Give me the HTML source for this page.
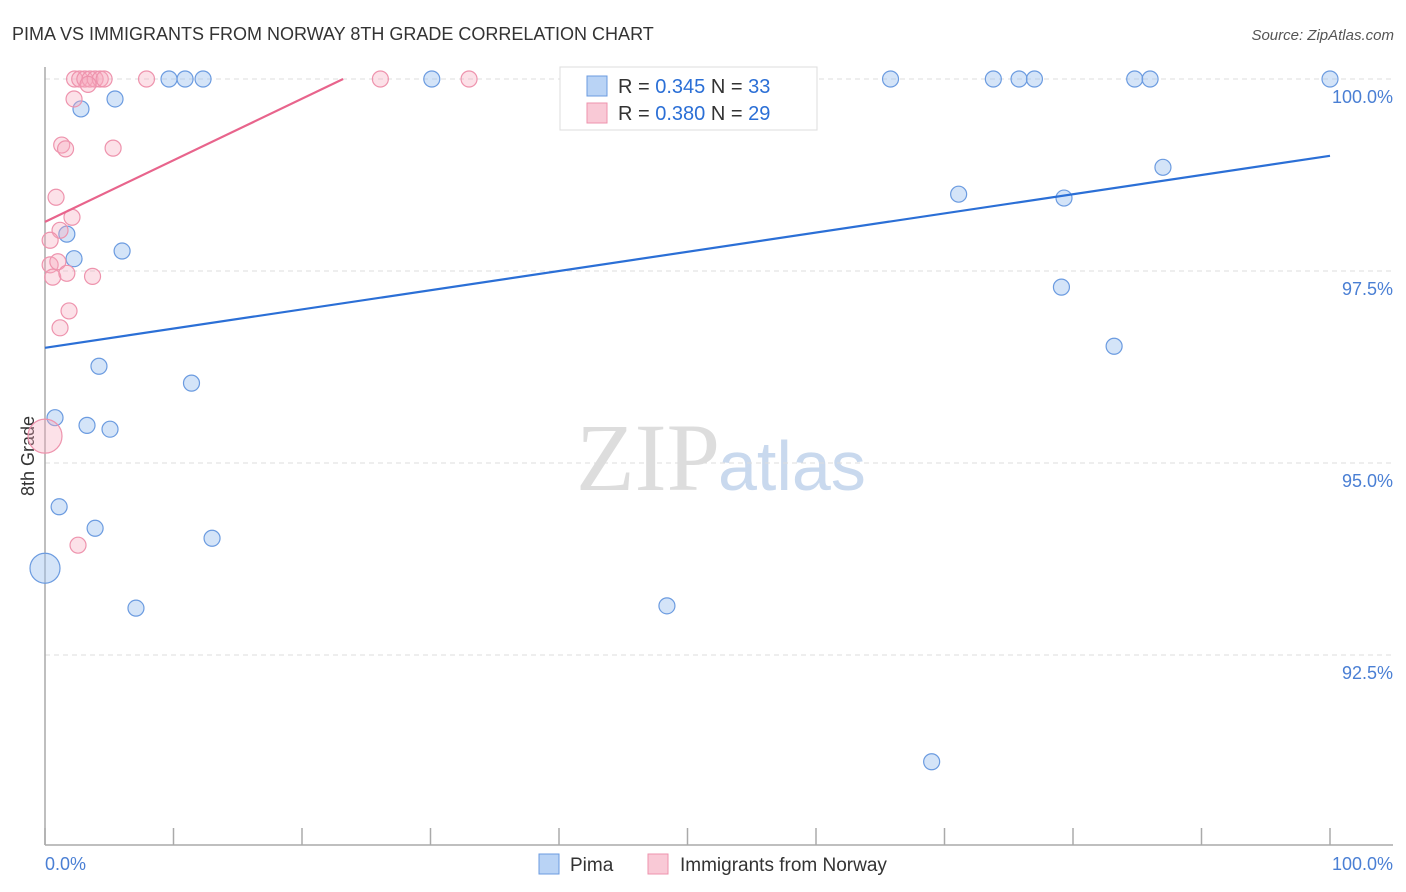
<!DOCTYPE html>
<html><head><meta charset="utf-8"><style>
body{margin:0;background:#fff;font-family:"Liberation Sans",sans-serif;}
svg{display:block}
</style></head><body>
<svg width="1406" height="892" id="chart">
<text x="12" y="40" font-size="18" fill="#333">PIMA VS IMMIGRANTS FROM NORWAY 8TH GRADE CORRELATION CHART</text>
<text x="1394" y="40" font-size="15" fill="#555" font-style="italic" text-anchor="end">Source: ZipAtlas.com</text>
<text x="34" y="456" font-size="18" fill="#333" transform="rotate(-90 34 456)" text-anchor="middle">8th Grade</text>
<text x="720" y="490" font-size="96" fill="#ddd" font-family="Liberation Serif,serif" text-anchor="end">ZIP</text>
<text x="718" y="490" font-size="70" fill="#c9d9ee">atlas</text>
<g id="grid"></g><g id="axes"></g><g id="pts"></g><g id="lines"></g>
<g>
<rect x="560" y="67" width="257" height="63" fill="#fff" stroke="#ddd"/>
<rect x="587" y="76" width="20" height="20" fill="#b9d3f5" stroke="#6b9be0"/>
<text x="618" y="93" font-size="20" fill="#333">R = <tspan fill="#2b6fd6">0.345</tspan>   N = <tspan fill="#2b6fd6">33</tspan></text>
<rect x="587" y="103" width="20" height="20" fill="#f9c9d6" stroke="#ee93ad"/>
<text x="618" y="120" font-size="20" fill="#333">R = <tspan fill="#2b6fd6">0.380</tspan>   N = <tspan fill="#2b6fd6">29</tspan></text>
</g>
<text x="45" y="870" font-size="18" fill="#4a7fd4">0.0%</text>
<text x="1393" y="870" font-size="18" fill="#4a7fd4" text-anchor="end">100.0%</text>
<g>
<rect x="539" y="854" width="20" height="20" fill="#b9d3f5" stroke="#6b9be0"/>
<text x="570" y="871" font-size="19" fill="#333">Pima</text>
<rect x="648" y="854" width="20" height="20" fill="#f9c9d6" stroke="#ee93ad"/>
<text x="680" y="871" font-size="19" fill="#333">Immigrants from Norway</text>
</g>
</svg>
<script>
const yTicks=[100,97.5,95,92.5];
const yTickLabels=["100.0%","97.5%","95.0%","92.5%"];
const pimaX=[9.65,10.9,12.3,30.1,65.8,73.8,75.8,77.0,84.8,86.0,100,5.45,2.8,1.7,2.26,6.0,87.0,71.1,79.3,79.1,83.2,4.2,11.4,0.78,3.27,5.06,1.1,3.9,13.0,0,7.08,48.4,69.0];
const pimaY=[100,100,100,100,100,100,100,100,100,100,100,99.74,99.61,97.98,97.66,97.76,98.85,98.50,98.45,97.29,96.52,96.26,96.04,95.59,95.49,95.44,94.43,94.15,94.02,93.63,93.11,93.14,91.11];
const norX=[2.3,2.7,3.1,3.5,3.9,4.3,4.6,3.35,7.9,26.1,33.0,2.26,1.3,1.6,5.3,0.86,2.1,1.17,0.4,0.4,1.0,0.6,1.7,3.7,1.87,1.17,2.57,0];
const norY=[100,100,100,100,100,100,100,99.93,100,100,100,99.74,99.14,99.09,99.10,98.46,98.20,98.03,97.90,97.58,97.62,97.42,97.47,97.43,96.98,96.76,93.93,95.35];
const pimaTrend=[[0,96.5],[100,99.0]];
const norTrend=[[0,98.14],[23.2,100]];
const X=v=>45+v*12.85, Y=v=>79+(100-v)*76.8;
const NS="http://www.w3.org/2000/svg";
function mk(t,a,p){const e=document.createElementNS(NS,t);for(const k in a)e.setAttribute(k,a[k]);document.getElementById(p).appendChild(e);return e;}
yTicks.forEach((t,i)=>{
 const l=mk('line',{x1:45,x2:1393,y1:Y(t),y2:Y(t),stroke:'#ddd','stroke-dasharray':'5,4'},'grid');
 
 
 const tx=mk('text',{x:1393,y:Y(t)+24,'font-size':18,fill:'#4a7fd4','text-anchor':'end'},'grid');
 tx.textContent=yTickLabels[i];
 
 
});
const ax=mk('line',{x1:45,x2:45,y1:67,y2:845,stroke:'#aaa','stroke-width':1.5},'axes');


const bx=mk('line',{x1:45,x2:1393,y1:845,y2:845,stroke:'#aaa','stroke-width':1.5},'axes');


for(let i=0;i<=10;i++){const t=mk('line',{x1:X(i*10),x2:X(i*10),y1:828,y2:845,stroke:'#aaa','stroke-width':1.5},'axes');
 
 }
pimaX.forEach((v,i)=>{const big=v===0;const c=mk('circle',{cx:X(v),cy:Y(pimaY[i]),r:big?15:8,fill:'rgba(160,195,240,0.45)',stroke:'#6b9be0','stroke-width':1.2},'pts');
 
 });
norX.forEach((v,i)=>{const big=v===0;const c=mk('circle',{cx:X(v),cy:Y(norY[i]),r:big?17:8,fill:'rgba(245,170,190,0.35)',stroke:'#ee93ad','stroke-width':1.2},'pts');
 
 });
const l1=mk('line',{x1:X(pimaTrend[0][0]),y1:Y(pimaTrend[0][1]),x2:X(pimaTrend[1][0]),y2:Y(pimaTrend[1][1]),stroke:'#2b6fd6','stroke-width':2.2},'lines');


const l2=mk('line',{x1:X(norTrend[0][0]),y1:Y(norTrend[0][1]),x2:X(norTrend[1][0]),y2:Y(norTrend[1][1]),stroke:'#e8648c','stroke-width':2.2},'lines');


</script>
</body></html>
